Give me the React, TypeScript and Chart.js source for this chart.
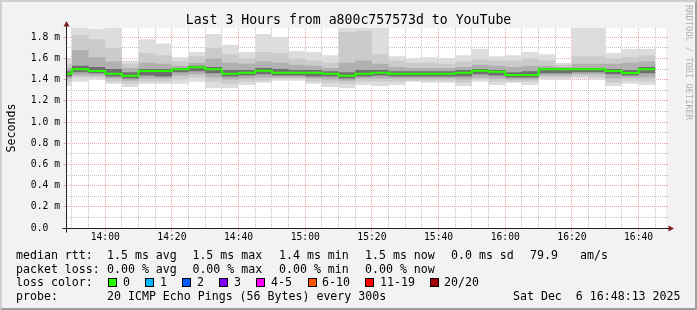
import React, { useEffect, useRef } from 'react';
import { Chart, registerables } from 'chart.js';

Chart.register(...registerables);

// ---------- text ----------
const title = 'Last 3 Hours from a800c757573d to YouTube';
const yAxisTitle = 'Seconds';
const watermark = 'RRDTOOL / TOBI OETIKER';

// ---------- time window / bins ----------
const windowStart = '13:48:13';
const windowEnd = '16:48:13';
const binLengthMin = 5;
const binStarts = [
  '13:45', '13:50', '13:55',
  '14:00', '14:05', '14:10', '14:15', '14:20', '14:25', '14:30', '14:35', '14:40', '14:45', '14:50', '14:55',
  '15:00', '15:05', '15:10', '15:15', '15:20', '15:25', '15:30', '15:35', '15:40', '15:45', '15:50', '15:55',
  '16:00', '16:05', '16:10', '16:15', '16:20', '16:25', '16:30', '16:35', '16:40',
];

// ---------- series (milliseconds) ----------
const medianMs = [1.456, 1.497, 1.481, 1.456, 1.437, 1.481, 1.481, 1.497, 1.516, 1.497, 1.456, 1.465, 1.484, 1.465, 1.465, 1.465, 1.456, 1.437, 1.456, 1.465, 1.456, 1.456, 1.456, 1.456, 1.465, 1.484, 1.475, 1.443, 1.443, 1.497, 1.497, 1.497, 1.497, 1.481, 1.462, 1.497];
const maxMs = [1.60, 1.89, 1.88, 1.89, 1.58, 1.78, 1.74, 1.61, 1.66, 1.83, 1.73, 1.66, 1.83, 1.80, 1.67, 1.66, 1.63, 1.89, 1.89, 1.89, 1.62, 1.60, 1.61, 1.60, 1.63, 1.69, 1.62, 1.63, 1.66, 1.64, 1.56, 1.89, 1.89, 1.65, 1.69, 1.69];
const q90Ms = [1.55, 1.82, 1.78, 1.70, 1.55, 1.65, 1.63, 1.57, 1.62, 1.70, 1.64, 1.60, 1.66, 1.65, 1.60, 1.58, 1.56, 1.85, 1.86, 1.64, 1.58, 1.56, 1.56, 1.55, 1.57, 1.59, 1.58, 1.58, 1.60, 1.58, 1.54, 1.62, 1.62, 1.60, 1.61, 1.63];
const q75Ms = [1.51, 1.68, 1.61, 1.57, 1.51, 1.56, 1.55, 1.53, 1.56, 1.60, 1.56, 1.55, 1.57, 1.56, 1.54, 1.53, 1.51, 1.56, 1.58, 1.55, 1.52, 1.51, 1.51, 1.51, 1.52, 1.54, 1.53, 1.52, 1.53, 1.53, 1.52, 1.55, 1.55, 1.55, 1.56, 1.57];
const q60Ms = [1.48, 1.53, 1.52, 1.50, 1.47, 1.50, 1.50, 1.51, 1.53, 1.52, 1.49, 1.49, 1.51, 1.50, 1.49, 1.49, 1.48, 1.47, 1.49, 1.49, 1.48, 1.48, 1.48, 1.48, 1.49, 1.50, 1.49, 1.47, 1.48, 1.51, 1.51, 1.51, 1.51, 1.50, 1.49, 1.52];
const q40Ms = [1.43, 1.47, 1.46, 1.43, 1.41, 1.44, 1.43, 1.47, 1.48, 1.46, 1.43, 1.44, 1.45, 1.44, 1.44, 1.43, 1.43, 1.41, 1.43, 1.44, 1.43, 1.43, 1.43, 1.43, 1.43, 1.45, 1.44, 1.42, 1.42, 1.46, 1.46, 1.47, 1.47, 1.45, 1.44, 1.46];
const q25Ms = [1.41, 1.44, 1.44, 1.41, 1.39, 1.41, 1.41, 1.44, 1.45, 1.42, 1.40, 1.41, 1.42, 1.42, 1.42, 1.41, 1.40, 1.39, 1.41, 1.41, 1.41, 1.41, 1.41, 1.41, 1.40, 1.42, 1.41, 1.40, 1.40, 1.44, 1.44, 1.45, 1.45, 1.41, 1.42, 1.42];
const q10Ms = [1.38, 1.42, 1.42, 1.38, 1.36, 1.38, 1.38, 1.40, 1.42, 1.38, 1.36, 1.38, 1.39, 1.41, 1.41, 1.38, 1.37, 1.36, 1.38, 1.38, 1.38, 1.39, 1.39, 1.39, 1.37, 1.40, 1.38, 1.38, 1.38, 1.42, 1.42, 1.43, 1.42, 1.37, 1.39, 1.38];
const minMs = [1.34, 1.38, 1.40, 1.36, 1.33, 1.36, 1.36, 1.36, 1.38, 1.32, 1.32, 1.35, 1.37, 1.39, 1.39, 1.36, 1.33, 1.32, 1.35, 1.34, 1.35, 1.38, 1.37, 1.37, 1.34, 1.38, 1.35, 1.37, 1.35, 1.40, 1.40, 1.41, 1.40, 1.34, 1.36, 1.35];

// ---------- axes ----------
const yMaxMs = 1.887;
const xTickLabels = ['14:00', '14:20', '14:40', '15:00', '15:20', '15:40', '16:00', '16:20', '16:40'];
const yTickLabels = ['0.0', '0.2 m', '0.4 m', '0.6 m', '0.8 m', '1.0 m', '1.2 m', '1.4 m', '1.6 m', '1.8 m'];
const xMinorStepMin = 5;
const yMinorStepMs = 0.1;

// ---------- legend ----------
const rttLabel = 'median rtt:';
const rttItems = ['1.5 ms avg', '1.5 ms max', '1.4 ms min', '1.5 ms now', '0.0 ms sd', '79.9', 'am/s'];
const lossLabel = 'packet loss:';
const lossItems = ['0.00 % avg', '0.00 % max', '0.00 % min', '0.00 % now'];
const lossColorLabel = 'loss color:';
const lossColorNames = ['0', '1', '2', '3', '4-5', '6-10', '11-19', '20/20'];
const lossColors = ['#26ff00', '#00b8ff', '#0059ff', '#7e00ff', '#ff00ff', '#ff5500', '#ff0000', '#a10000'];
const probeLabel = 'probe:';
const probeText = '20 ICMP Echo Pings (56 Bytes) every 300s';
const stampText = 'Sat Dec  6 16:48:13 2025';

// ---------- styles ----------
const MONO = '"DejaVu Sans Mono", monospace';
const BACK = '#f2f2f2';
const SHADEA = '#cfcfcf';
const SHADEB = '#9e9e9e';
const GRID = 'rgba(143,143,143,0.55)';
const MGRID = 'rgba(222,79,79,0.5)';
const AXIS = '#1f1f1f';
const ARROW = '#801f1f';
const smokeColors = ['#dddddd', '#cbcbcb', '#b0b0b0', '#6e6e6e'];

const toMin = (t: string) => {
  const p = t.split(':').map(Number);
  return p[0] * 60 + p[1] + (p[2] || 0) / 60;
};
const xTickValues = xTickLabels.map(toMin);
const yTickValues = yTickLabels.map((l) => parseFloat(l));
const isMajor = (vals: number[], v: number) => vals.some((t) => Math.abs(t - v) < 1e-6);

function steps(values: number[]) {
  const pts: { x: number; y: number }[] = [];
  values.forEach((v, i) => {
    const s = toMin(binStarts[i]);
    pts.push({ x: s, y: v }, { x: s + binLengthMin, y: v });
  });
  return pts;
}

function band(values: number[], color: string, target: number | false) {
  return {
    data: steps(values),
    borderWidth: 0,
    borderColor: 'rgba(0,0,0,0)',
    backgroundColor: color,
    pointRadius: 0,
    fill: target === false ? false : target,
    tension: 0,
    clip: 0,
  };
}

const align = (p: number) => Math.round(p - 0.5) + 0.5;

const rrdPlugin = {
  id: 'rrd',
  beforeDraw(chart: any) {
    const { ctx, width: W, height: H, chartArea: a } = chart;
    ctx.save();
    ctx.fillStyle = BACK;
    ctx.fillRect(0, 0, W, H);
    ctx.fillStyle = SHADEA;
    ctx.beginPath();
    ctx.moveTo(0, H); ctx.lineTo(2, H - 2); ctx.lineTo(2, 2); ctx.lineTo(W - 2, 2); ctx.lineTo(W, 0); ctx.lineTo(0, 0);
    ctx.closePath(); ctx.fill();
    ctx.fillStyle = SHADEB;
    ctx.beginPath();
    ctx.moveTo(2, H - 2); ctx.lineTo(W - 2, H - 2); ctx.lineTo(W - 2, 2); ctx.lineTo(W, 0); ctx.lineTo(W, H); ctx.lineTo(0, H);
    ctx.closePath(); ctx.fill();
    ctx.fillStyle = '#ffffff';
    ctx.fillRect(a.left, a.top, a.right - a.left, a.bottom - a.top);
    ctx.restore();
  },
  afterDraw(chart: any) {
    const { ctx, chartArea: a } = chart;
    const xs = chart.scales.x;
    const ys = chart.scales.y;
    const x0 = align(a.left);
    const y0 = align(a.bottom);
    const line = (x1: number, y1: number, x2: number, y2: number) => {
      ctx.beginPath(); ctx.moveTo(x1, y1); ctx.lineTo(x2, y2); ctx.stroke();
    };
    ctx.save();
    ctx.lineWidth = 1;
    // y ticks outside plot
    for (let i = 0; i * yMinorStepMs <= yMaxMs; i++) {
      const v = Math.round(i) / 10;
      const y = align(ys.getPixelForValue(v));
      const maj = isMajor(yTickValues, v);
      ctx.strokeStyle = maj ? MGRID : GRID;
      if (maj) line(x0 - 3, y, x0, y);
      line(a.right, y, a.right + 2, y);
    }
    // x major ticks
    xTickValues.forEach((v) => {
      const x = align(xs.getPixelForValue(v));
      ctx.strokeStyle = MGRID;
      line(x, y0, x, y0 + 3);
    });
    // axes
    ctx.strokeStyle = AXIS;
    line(x0 - 4, y0, a.right + 4.5, y0);
    line(x0, y0 + 4, x0, a.top - 4);
    // arrows
    ctx.fillStyle = ARROW;
    ctx.beginPath();
    ctx.moveTo(a.right + 2.5, y0 - 3); ctx.lineTo(a.right + 2.5, y0 + 3); ctx.lineTo(a.right + 8, y0); ctx.closePath(); ctx.fill();
    ctx.beginPath();
    ctx.moveTo(x0 - 3, a.top - 1.5); ctx.lineTo(x0 + 3, a.top - 1.5); ctx.lineTo(x0, a.top - 7); ctx.closePath(); ctx.fill();

    // title
    ctx.fillStyle = '#000';
    ctx.textBaseline = 'alphabetic';
    ctx.font = `13.2px ${MONO}`;
    ctx.textAlign = 'center';
    ctx.fillText(title, 348.5, 24);

    // y title
    ctx.font = `11.6px ${MONO}`;
    ctx.save();
    ctx.translate(14.5, (a.top + a.bottom) / 2);
    ctx.rotate(-Math.PI / 2);
    ctx.textAlign = 'center';
    ctx.fillText(yAxisTitle, 0, 0);
    ctx.restore();

    // watermark
    ctx.save();
    ctx.font = `8.7px ${MONO}`;
    ctx.fillStyle = 'rgba(0,0,0,0.28)';
    ctx.translate(686, 5);
    ctx.rotate(Math.PI / 2);
    ctx.textAlign = 'left';
    ctx.fillText(watermark, 0, 0);
    ctx.restore();

    // legend
    ctx.font = `11.6px ${MONO}`;
    ctx.textAlign = 'left';
    ctx.fillStyle = '#000';
    const colX = [107, 192.4, 279, 365, 451, 530, 580];
    const rows = [259, 272.5, 286, 299.5];
    ctx.fillText(rttLabel, 16, rows[0]);
    rttItems.forEach((t, i) => ctx.fillText(t, colX[i], rows[0]));
    ctx.fillText(lossLabel, 16, rows[1]);
    lossItems.forEach((t, i) => ctx.fillText(t, colX[i], rows[1]));
    ctx.fillText(lossColorLabel, 16, rows[2]);
    const boxX = [108, 145, 182, 219, 256, 308, 365, 430];
    const txtX = [123, 160, 197, 234, 271, 322, 380, 444];
    lossColorNames.forEach((n, i) => {
      ctx.fillStyle = lossColors[i];
      ctx.fillRect(boxX[i], 278, 9, 9);
      ctx.strokeStyle = '#000';
      ctx.strokeRect(boxX[i] + 0.5, 278.5, 8, 8);
      ctx.fillStyle = '#000';
      ctx.fillText(n, txtX[i], rows[2]);
    });
    ctx.fillText(probeLabel, 16, rows[3]);
    ctx.fillText(probeText, 107, rows[3]);
    ctx.textAlign = 'right';
    ctx.fillText(stampText, 680.5, rows[3]);
    ctx.restore();
  },
};

export default function App() {
  const ref = useRef<HTMLCanvasElement>(null);
  useEffect(() => {
    const canvas = ref.current!;
    const datasets: any[] = [
      {
        data: steps(medianMs),
        borderColor: lossColors[0],
        borderWidth: 2,
        pointRadius: 0,
        fill: false,
        tension: 0,
        clip: 0,
      },
      band(q60Ms, smokeColors[3], 2),
      band(q40Ms, smokeColors[3], false),
      band(q75Ms, smokeColors[2], 4),
      band(q25Ms, smokeColors[2], false),
      band(q90Ms, smokeColors[1], 6),
      band(q10Ms, smokeColors[1], false),
      band(maxMs, smokeColors[0], 8),
      band(minMs, smokeColors[0], false),
    ];
    const chart = new Chart(canvas, {
      type: 'line',
      data: { datasets },
      plugins: [rrdPlugin],
      options: {
        animation: false,
        responsive: false,
        devicePixelRatio: 1,
        events: [],
        layout: { padding: { top: 28, right: 31, bottom: 0, left: 0 } },
        plugins: { legend: { display: false }, tooltip: { enabled: false }, title: { display: false } },
        scales: {
          x: {
            type: 'linear',
            bounds: 'data',
            min: toMin(windowStart),
            max: toMin(windowEnd),
            z: 1,
            afterFit: (s: any) => { s.height = 82; },
            afterBuildTicks: (s: any) => {
              const t: any[] = [];
              for (let v = Math.ceil(s.min / xMinorStepMin) * xMinorStepMin; v <= s.max; v += xMinorStepMin) t.push({ value: v });
              s.ticks = t;
            },
            grid: {
              drawTicks: false,
              lineWidth: 1,
              color: (c: any) => (c.tick && isMajor(xTickValues, c.tick.value) ? MGRID : GRID),
            },
            border: { display: false, dash: [1, 1] },
            ticks: {
              autoSkip: false,
              maxRotation: 0,
              minRotation: 0,
              padding: 4,
              color: '#000',
              font: { family: MONO, size: 9.7 },
              callback: (v: any) => {
                const i = xTickValues.findIndex((t) => Math.abs(t - v) < 1e-6);
                return i >= 0 ? xTickLabels[i] : '';
              },
            },
          },
          y: {
            type: 'linear',
            bounds: 'data',
            min: 0,
            max: yMaxMs,
            z: 1,
            afterFit: (s: any) => { s.width = 66; },
            afterBuildTicks: (s: any) => {
              const t: any[] = [];
              for (let i = 0; i * yMinorStepMs <= s.max + 1e-9; i++) t.push({ value: Math.round(i) / 10 });
              s.ticks = t;
            },
            grid: {
              drawTicks: false,
              lineWidth: 1,
              color: (c: any) => (c.tick && isMajor(yTickValues, c.tick.value) ? MGRID : GRID),
            },
            border: { display: false, dash: [1, 1] },
            ticks: {
              autoSkip: false,
              padding: 6,
              color: '#000',
              font: { family: MONO, size: 9.7 },
              callback: (v: any) => {
                const i = yTickValues.findIndex((t) => Math.abs(t - v) < 1e-6);
                return i >= 0 ? yTickLabels[i].padEnd(5, ' ') : '';
              },
            },
          },
        },
      } as any,
    });
    return () => chart.destroy();
  }, []);
  return (
    <div style={{ position: 'fixed', left: 0, top: 0, width: 697, height: 310 }}>
      <canvas ref={ref} width={697} height={310} style={{ display: 'block', width: 697, height: 310 }} />
    </div>
  );
}
